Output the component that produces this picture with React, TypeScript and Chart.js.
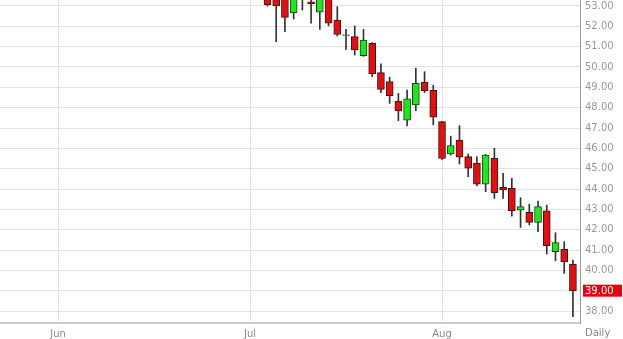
import React, { useEffect, useRef } from "react";
import { Chart, registerables } from "chart.js";

Chart.register(...registerables);

// trading-day index (Jun 1 = 0, Jul 1 = 22, Aug 1 = 44)
const dayIndex = [24, 25, 26, 27, 28, 29, 30, 31, 32, 33, 34, 35, 36, 37, 38, 39, 40, 41, 42, 43, 44, 45, 46, 47, 48, 49, 50, 51, 52, 53, 54, 55, 56, 57, 58, 59];
const opens = [53.6, 53.5, 53.4, 52.67, 53.6, 53.21, 52.7, 53.5, 52.31, 51.58, 51.49, 50.56, 51.17, 49.72, 49.28, 48.33, 47.39, 48.13, 49.25, 48.85, 47.31, 45.72, 46.41, 45.59, 45.26, 44.24, 45.51, 44.08, 44.03, 42.96, 42.85, 42.36, 42.93, 40.92, 41.03, 40.31];
const highs = [53.8, 53.7, 53.6, 53.7, 53.8, 53.4, 53.6, 53.7, 52.97, 51.85, 52.02, 51.85, 51.2, 50.15, 49.5, 48.7, 48.87, 49.94, 49.77, 49.1, 47.33, 46.6, 47.11, 45.72, 45.59, 45.7, 46.0, 44.77, 44.52, 43.57, 43.25, 43.41, 43.21, 41.85, 41.41, 40.51];
const lows = [53.0, 51.24, 51.74, 52.36, 52.8, 52.15, 51.85, 52.02, 51.52, 50.87, 50.59, 50.52, 49.52, 48.74, 48.21, 47.36, 47.1, 47.85, 48.74, 47.15, 45.46, 45.67, 45.23, 44.6, 44.15, 43.87, 43.54, 43.54, 42.67, 42.11, 42.23, 41.9, 40.8, 40.47, 39.85, 37.72];
const closes = [53.06, 53.0, 52.44, 53.5, 53.5, 53.1, 53.4, 52.15, 51.6, 51.55, 50.84, 51.33, 49.66, 48.9, 48.59, 47.84, 48.43, 49.2, 48.83, 47.53, 45.5, 46.13, 45.56, 45.02, 44.24, 45.67, 43.82, 43.95, 42.93, 43.13, 42.36, 43.13, 41.21, 41.36, 40.42, 39.0];

const monthTicks = [0, 22, 44];
const monthLabels = ["Jun", "Jul", "Aug"];
const priceTicks = [38, 39, 40, 41, 42, 43, 44, 45, 46, 47, 48, 49, 50, 51, 52, 53];
const periodLabel = "Daily";

export default function App() {
  const ref = useRef<HTMLCanvasElement | null>(null);

  useEffect(() => {
    document.body.style.margin = "0";
    const canvas = ref.current;
    if (!canvas) return;

    const up = closes.map((c, i) => c >= opens[i]);
    const lastClose = closes[closes.length - 1];

    const overlay = {
      id: "overlay",
      afterDraw(chart: any) {
        const ctx = chart.ctx;
        const ys = chart.scales.y;
        const area = chart.chartArea;
        const yy = ys.getPixelForValue(lastClose);
        ctx.save();
        ctx.fillStyle = "#e8000b";
        ctx.fillRect(area.right + 3, yy - 6, 39, 12);
        ctx.fillStyle = "#ffffff";
        ctx.font = "10px 'DejaVu Sans'";
        ctx.textBaseline = "middle";
        ctx.textAlign = "left";
        ctx.fillText(lastClose.toFixed(2), area.right + 5, yy + 0.5);
        ctx.fillStyle = "#888888";
        ctx.fillText(periodLabel, area.right + 5, 333);
        ctx.restore();
      },
    };

    const zeroPad = (scale: any) => {
      scale.paddingTop = 0;
      scale.paddingBottom = 0;
      scale.paddingLeft = 0;
      scale.paddingRight = 0;
    };

    const chart = new Chart(canvas, {
      type: "bar",
      data: {
        datasets: [
          {
            label: "body",
            data: dayIndex.map((x, i) => ({ x, y: [opens[i], closes[i]] })) as any,
            backgroundColor: up.map((u) => (u ? "#22e422" : "#dd1111")),
            borderColor: up.map((u) => (u ? "#114411" : "#441111")),
            borderWidth: 1,
            borderSkipped: false,
            barThickness: 7,
            grouped: false,
            order: 0,
          } as any,
          {
            label: "wick",
            data: dayIndex.map((x, i) => ({ x, y: [lows[i], highs[i]] })) as any,
            backgroundColor: "#333333",
            borderWidth: 0,
            barThickness: 1,
            grouped: false,
            order: 1,
          } as any,
        ],
      },
      options: {
        animation: false,
        responsive: false,
        maintainAspectRatio: false,
        layout: { padding: 0 },
        plugins: { legend: { display: false }, tooltip: { enabled: false } },
        scales: {
          x: {
            type: "linear",
            offset: false,
            min: -6.646,
            max: 59.81,
            afterBuildTicks: (scale: any) => {
              scale.ticks = monthTicks.map((v) => ({ value: v }));
            },
            afterFit: (scale: any) => {
              scale.height = 16;
              zeroPad(scale);
            },
            grid: { color: "#e2e2e2", drawTicks: false, offset: false },
            border: { color: "#cccccc", width: 2 },
            ticks: {
              padding: 5,
              color: "#888888",
              font: { family: "'DejaVu Sans'", size: 10 },
              maxRotation: 0,
              autoSkip: false,
              callback: (v: any) => {
                const k = monthTicks.indexOf(Number(v));
                return k >= 0 ? monthLabels[k] : "";
              },
            },
          },
          y: {
            type: "linear",
            position: "right",
            min: 37.41,
            max: 53.295,
            afterBuildTicks: (scale: any) => {
              scale.ticks = priceTicks.map((v) => ({ value: v }));
            },
            afterFit: (scale: any) => {
              scale.width = 43;
              zeroPad(scale);
            },
            grid: { color: "#e2e2e2", drawTicks: false },
            border: { color: "#999999", width: 1 },
            ticks: {
              padding: 5,
              color: "#999999",
              font: { family: "'DejaVu Sans'", size: 10 },
              callback: (v: any) => Number(v).toFixed(2),
            },
          },
        },
      },
      plugins: [overlay],
    } as any);

    return () => chart.destroy();
  }, []);

  return (
    <div style={{ position: "absolute", left: 0, top: 0, width: 623, height: 339, background: "#fff" }}>
      <canvas ref={ref} width={623} height={339} style={{ display: "block" }} />
    </div>
  );
}
